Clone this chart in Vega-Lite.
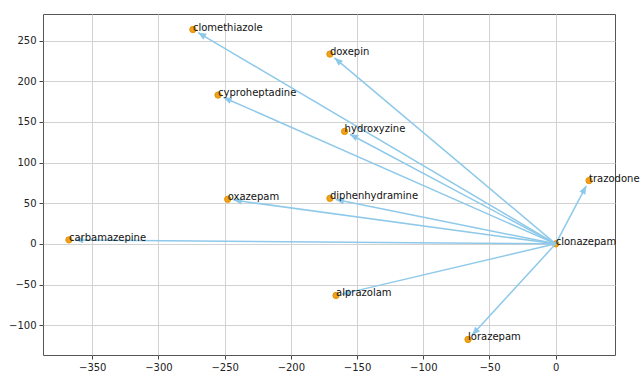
{
  "$schema": "https://vega.github.io/schema/vega-lite/v6.json",
  "width": 572,
  "height": 341,
  "autosize": "none",
  "padding": {"left": 43, "top": 14, "right": 25, "bottom": 17},
  "background": "white",
  "config": {
    "view": {"stroke": "#555555", "strokeWidth": 1},
    "axis": {
      "grid": true,
      "gridColor": "#d2d2d2",
      "gridWidth": 1,
      "domain": false,
      "tickColor": "#444444",
      "tickSize": 4,
      "labelFont": "DejaVu Sans",
      "labelFontSize": 10,
      "labelColor": "#222222",
      "labelPadding": 3,
      "title": null
    }
  },
  "data": {
    "values": [
      {"name": "clomethiazole", "x": -274, "y": 263.6},
      {"name": "doxepin", "x": -170.5, "y": 233.4},
      {"name": "cyproheptadine", "x": -255, "y": 183},
      {"name": "hydroxyzine", "x": -159.4, "y": 138.3},
      {"name": "trazodone", "x": 25.2, "y": 77.8},
      {"name": "oxazepam", "x": -247.7, "y": 54.8},
      {"name": "diphenhydramine", "x": -170.5, "y": 56},
      {"name": "carbamazepine", "x": -367.6, "y": 4.9},
      {"name": "clonazepam", "x": 0, "y": 0},
      {"name": "alprazolam", "x": -165.9, "y": -63.5},
      {"name": "lorazepam", "x": -66.2, "y": -117.6}
    ]
  },
  "encoding": {
    "x": {"field": "x", "type": "quantitative", "scale": {"domain": [-387.2, 44.8], "nice": false, "zero": false},
      "axis": {"values": [-350, -300, -250, -200, -150, -100, -50, 0]}},
    "y": {"field": "y", "type": "quantitative", "scale": {"domain": [-136.7, 282.7], "nice": false, "zero": false},
      "axis": {"values": [-100, -50, 0, 50, 100, 150, 200, 250]}}
  },
  "layer": [
    {
      "mark": {"type": "point", "filled": true, "color": "#f0a21e", "size": 40, "opacity": 1, "stroke": "#e39400", "strokeWidth": 1}
    },
    {
      "transform": [
        {"filter": "datum.name !== 'clonazepam'"},
        {"calculate": "sqrt(pow(datum.x*1.324,2)+pow(datum.y*0.813,2))", "as": "len"},
        {"calculate": "datum.x*(1-6/datum.len)", "as": "tx"},
        {"calculate": "datum.y*(1-6/datum.len)", "as": "ty"},
        {"calculate": "datum.x*(1-10/datum.len)", "as": "hx"},
        {"calculate": "datum.y*(1-10/datum.len)", "as": "hy"},
        {"calculate": "atan2(datum.x*1.324, datum.y*0.813)*180/PI", "as": "ang"}
      ],
      "layer": [
        {
          "mark": {"type": "rule", "color": "#8ec9ea", "strokeWidth": 1.5},
          "encoding": {
            "x": {"field": "tx", "type": "quantitative"},
            "y": {"field": "ty", "type": "quantitative"},
            "x2": {"datum": 0},
            "y2": {"datum": 0}
          }
        },
        {
          "mark": {"type": "point", "filled": true, "color": "#8ec9ea", "opacity": 1, "shape": "M0,-1L0.8,1L-0.8,1Z", "size": 70},
          "encoding": {
            "x": {"field": "hx", "type": "quantitative"},
            "y": {"field": "hy", "type": "quantitative"},
            "angle": {"field": "ang", "type": "quantitative", "scale": null}
          }
        }
      ]
    },
    {
      "mark": {"type": "text", "align": "left", "baseline": "alphabetic", "font": "DejaVu Sans", "fontSize": 10, "color": "#111111", "dx": 0, "dy": 1},
      "encoding": {"text": {"field": "name"}}
    }
  ]
}
